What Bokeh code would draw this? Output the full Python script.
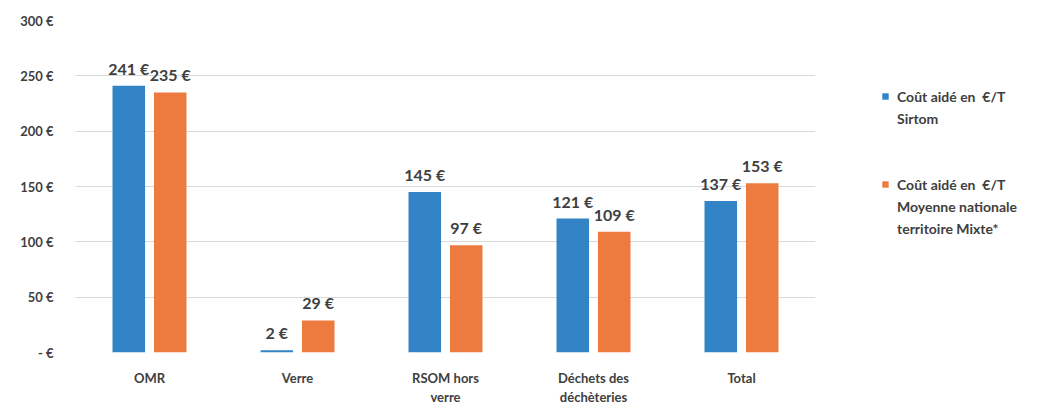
from bokeh.plotting import figure
from bokeh.layouts import row
from bokeh.models import ColumnDataSource, FixedTicker, LabelSet, Legend, LegendItem
from bokeh.core.properties import value
from bokeh.transform import dodge
from bokeh.embed import file_html
from bokeh.resources import INLINE

categories = ["OMR", "Verre", "RSOM hors\nverre", "Déchets des\ndéchèteries", "Total"]
sirtom = [241, 2, 145, 121, 137]
moyenne = [235, 29, 97, 109, 153]
series_lines = [["Coût aidé en  €/T", "Sirtom"],
                ["Coût aidé en  €/T", "Moyenne nationale", "territoire Mixte*"]]
y_ticks = [0, 50, 100, 150, 200, 250, 300]
y_tick_labels = ["- €", "50 €", "100 €", "150 €", "200 €", "250 €", "300 €"]

blue = "#3384C6"
orange = "#ED7B3F"
txt = "#404040"
font = "Lato"

src = ColumnDataSource(dict(
    cat=categories, s=sirtom, m=moyenne,
    sl=[f"{v} €" for v in sirtom], ml=[f"{v} €" for v in moyenne],
))

FW, FH = 740, 332
TOP, BOT, LEFT, RIGHT = 20, 43, 75, 10
H = TOP + FH + BOT
p = figure(x_range=categories, y_range=(0, 300),
           frame_width=FW, frame_height=FH,
           output_backend="svg", toolbar_location=None,
           min_border_left=LEFT, min_border_right=RIGHT,
           min_border_top=TOP, min_border_bottom=BOT)
p.outline_line_color = None
p.background_fill_color = "white"

OFF = 0.14
r1 = p.vbar(x=dodge("cat", -OFF, range=p.x_range), top="s", width=0.22, source=src,
            fill_color=blue, line_color=None)
r2 = p.vbar(x=dodge("cat", OFF, range=p.x_range), top="m", width=0.22, source=src,
            fill_color=orange, line_color=None)

for col, lab, off in (("s", "sl", -OFF), ("m", "ml", OFF)):
    ls = LabelSet(x=dodge("cat", off, range=p.x_range), y=col, text=lab, source=src,
                  text_align="center", text_baseline="bottom", y_offset=8,
                  text_font=value(font), text_font_style="bold", text_font_size="16px",
                  text_color=txt)
    p.add_layout(ls)

p.yaxis.ticker = FixedTicker(ticks=y_ticks)
p.yaxis.major_label_overrides = {t: l for t, l in zip(y_ticks, y_tick_labels)}
for ax in (p.xaxis, p.yaxis):
    ax.axis_line_color = None
    ax.major_tick_line_color = None
    ax.minor_tick_line_color = None
    ax.major_label_text_font = font
    ax.major_label_text_font_style = "bold"
    ax.major_label_text_color = txt
p.yaxis.major_label_text_font_size = "13px"
p.xaxis.major_label_text_font_size = "13px"
p.yaxis.major_label_standoff = 16
p.xaxis.major_label_standoff = 11
p.xgrid.grid_line_color = None
p.ygrid.grid_line_color = "#D9D9D9"
p.x_range.range_padding = 0.0

# legend panel as a separate, axis-less figure
LW = 1042 - (LEFT + FW + RIGHT)
lg = figure(width=LW, height=H, x_range=(0, 1), y_range=(0, 1),
            output_backend="svg", toolbar_location=None,
            min_border=0, min_border_left=0, min_border_right=0,
            min_border_top=0, min_border_bottom=0)
lg.axis.visible = False
lg.grid.visible = False
lg.outline_line_color = None

# legend swatches: same data, lying outside this panel's visible range
sq_blue = lg.vbar(x="s", top="s", width=0.1, source=src, fill_color=blue, line_color=None)
sq_orange = lg.vbar(x="m", top="m", width=0.1, source=src, fill_color=orange, line_color=None)
blank = lg.vbar(x="s", top="s", width=0.1, source=src, fill_alpha=0, line_alpha=0)

items = []
for sq, lines in ((sq_blue, series_lines[0]), (sq_orange, series_lines[1])):
    items.append(LegendItem(label=lines[0], renderers=[sq]))
    for extra in lines[1:]:
        items.append(LegendItem(label=extra, renderers=[blank]))
    if sq is sq_blue:
        items.append(LegendItem(label=" ", renderers=[blank]))
        items.append(LegendItem(label="  ", renderers=[blank]))

ROW = 22
legend = Legend(items=items, location=(56, 101),
                border_line_color=None, background_fill_alpha=0,
                label_text_font=font, label_text_font_size="14px",
                label_text_font_style="bold", label_text_color=txt,
                glyph_width=8, glyph_height=8, label_height=ROW, spacing=0,
                padding=0, margin=0, label_standoff=8)
lg.add_layout(legend)

layout = row(p, lg)
open("out.html", "w").write(file_html(layout, INLINE))
